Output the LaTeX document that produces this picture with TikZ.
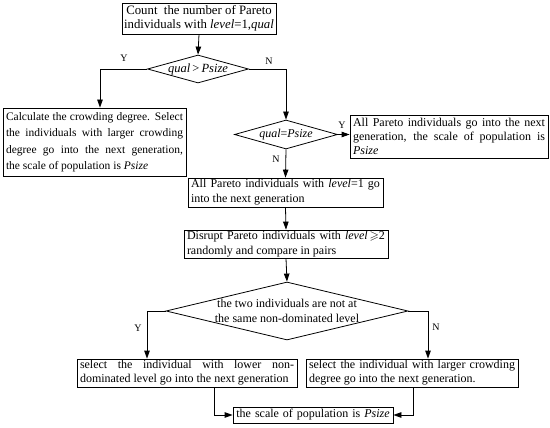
\documentclass[tikz,border=0pt]{standalone}
\usepackage{fontspec}
\setmainfont{Liberation Serif}
\usepackage{amssymb}
\usetikzlibrary{shapes.geometric,arrows.meta}
\newcommand{\fss}[2]{\fontsize{#1}{#2}\selectfont\hyphenpenalty=10000\exhyphenpenalty=10000}
\begin{document}
\begin{tikzpicture}[x=1pt,y=-1pt,
  box/.style={draw, line width=0.8pt, inner xsep=3pt, inner ysep=1pt, font={\fss{12}{14}}, align=justify},
  dia/.style={draw, diamond, line width=0.8pt, inner sep=0pt},
  diatext/.style={font={\fss{12}{15}}, align=center, inner sep=0pt},
  arr/.style={line width=0.8pt, -{Triangle[length=8pt,width=5.5pt]}},
  lab/.style={font={\fontsize{10}{10}\selectfont}, inner sep=0pt}]
\useasboundingbox (0,0) rectangle (550,428);
\fill[white] (0,0) rectangle (550,428);
% boxes
\node[box, align=center, inner sep=0pt, minimum width=154pt, minimum height=31pt, font={\fss{12.8}{14.5}}] (b1) at (199,18.5)
  {Count\ \ the number of Pareto\\individuals with \textit{level}=1,\textit{qual}};
\node[box, text width=177pt, minimum height=68pt, font={\fss{11.5}{16.5}}] (b2) at (94.5,142)
  {Calculate the crowding degree. Select\linebreak the individuals with larger crowding\linebreak degree go into the next generation,\linebreak the scale of population is \textit{Psize}};
\node[box, text width=192pt, minimum height=43pt, inner ysep=0pt, font={\fss{12}{14}}] (b3) at (449,136.5)
  {All Pareto individuals go into the next\linebreak generation, the scale of population is\linebreak \textit{Psize}};
\node[box, text width=189pt, minimum height=29pt, font={\fss{12}{15}}] (b4) at (285.5,192.5)
  {All Pareto individuals with \textit{level}=1 go\linebreak into the next generation};
\node[box, text width=198pt, minimum height=28pt, font={\fss{12}{15}}] (b5) at (286,244)
  {Disrupt Pareto individuals with \textit{level}\,$\geqslant$2\linebreak randomly and compare in pairs};
\node[box, text width=214pt, minimum height=28pt] (b6) at (187,373)
  {select the individual with lower non-\linebreak dominated level go into the next generation};
\node[box, text width=206pt, minimum height=28pt] (b7) at (412,373)
  {select the individual with larger crowding\linebreak degree go into the next generation.};
\node[box, align=center, text width=154pt, inner ysep=0pt, minimum height=16pt] (b8) at (313,415)
  {the scale of population is \textit{Psize}};
% diamonds
\node[dia, minimum width=101pt, minimum height=28pt] (d1) at (198,69) {};
\node[diatext, font={\fss{12.5}{15}}] (d1t) at (d1.center) {\textit{qual}\,>\,\textit{Psize}};
\node[dia, minimum width=103pt, minimum height=29pt] (d2) at (286,134.5) {};
\node[diatext] (d2t) at (d2.center) {\textit{qual}=\textit{Psize}};
\node[dia, minimum width=242pt, minimum height=58pt] (d3) at (287,311) {};
\node[diatext] (d3t) at (d3.center) {the two individuals are not at\\the same non-dominated level};
% connectors
\draw[arr] (b1.south) -- (d1.north);
\draw[arr] (d1.west) -| ([xshift=5.5pt]b2.north);
\draw[arr] (d1.east) -| (d2.north);
\draw[arr] (d2.east) -- (d2.east -| b3.west);
\draw[arr] (d2.south) -- (b4.north);
\draw[arr] (b4.south) -- (b5.north);
\draw[arr] (b5.south) -- (d3.north);
\draw[arr] (d3.west) -| ([xshift=-40pt]b6.north);
\draw[arr] (d3.east) -| ([xshift=16pt]b7.north);
\draw[arr] ([xshift=27pt]b6.south) |- (b8.west);
\draw[arr] ([xshift=1pt]b7.south) |- (b8.east);
% labels
\node[lab] (y1) at (124,58) {Y};
\node[lab] (n1) at (269,61) {N};
\node[lab] (y2) at (342,125) {Y};
\node[lab] (n2) at (276,159) {N};
\node[lab] (y3) at (138,328) {Y};
\node[lab] (n3) at (436,327) {N};
\end{tikzpicture}
\end{document}
